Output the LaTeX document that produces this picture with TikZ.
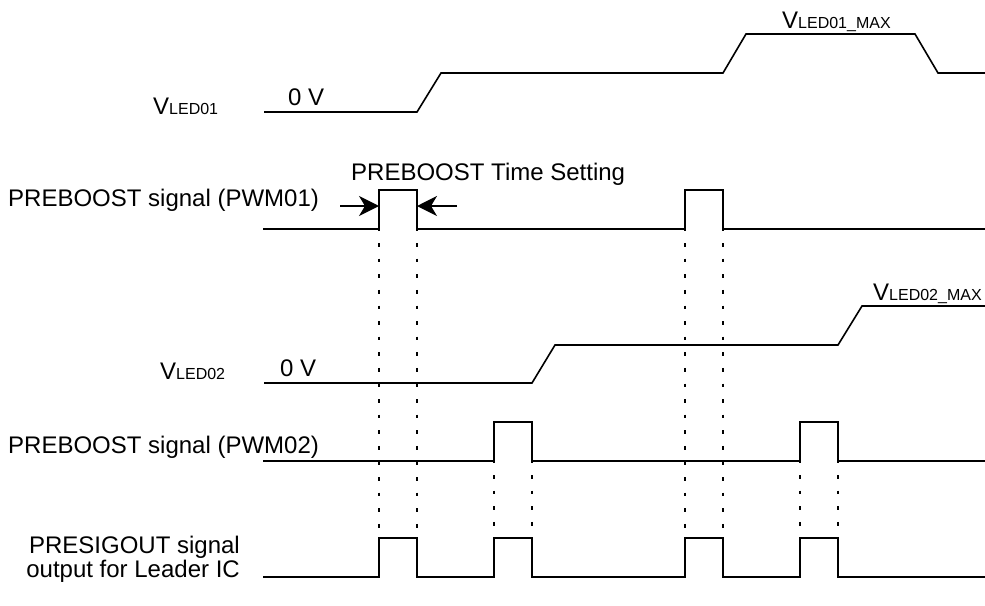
\documentclass[tikz,border=0pt]{standalone}
\usepackage{fontspec}
\setmainfont{Liberation Sans}
\usetikzlibrary{arrows.meta}
\newcommand{\vsub}[1]{{\fontsize{16}{16}\selectfont #1}}
\begin{document}
\begin{tikzpicture}[x=1pt,y=-1pt,
  wave/.style={line width=1.6pt, line join=miter},
  dotline/.style={line width=2.6pt, dash pattern=on 3.6pt off 12pt},
  arr/.style={line width=1.6pt, -{Stealth[length=20pt,width=20pt,inset=6pt]}},
  lbl/.style={inner sep=0pt, font=\fontsize{24}{25}\selectfont}]
\useasboundingbox (0,0) rectangle (985,605);
% labels
\node[lbl, anchor=base west] (vled1) at (153,114) {V\vsub{LED01}};
\node[lbl, anchor=base west] (zero1) at (288,105) {0 V};
\node[lbl, anchor=base west] (vled1max) at (782,28) {V\vsub{LED01\_MAX}};
\node[lbl, anchor=base west] (tset) at (351,180) {PREBOOST Time Setting};
\node[lbl, anchor=base west] (pwm1) at (8,206) {PREBOOST signal (PWM01)};
\node[lbl, anchor=base west] (vled2) at (160,379) {V\vsub{LED02}};
\node[lbl, anchor=base west] (zero2) at (280,376) {0 V};
\node[lbl, anchor=base west] (vled2max) at (873,300) {V\vsub{LED02\_MAX}};
\node[lbl, anchor=base west] (pwm2) at (8,453) {PREBOOST signal (PWM02)};
\node[lbl, anchor=base east, align=right] (presig) at (240,577) {PRESIGOUT signal\\[-1pt]output for Leader IC};
% dotted guides
\foreach \x in {379,417,685,723} \draw[dotline] (\x,227.5) -- (\x,577);
\foreach \x in {494,532,800,838} \draw[dotline] (\x,459.5) -- (\x,577);
% waveforms
\draw[wave] (264,112) -- (417,112) -- (441,73) -- (723,73) -- (746,34) -- (915,34) -- (938,73) -- (985,73);
\draw[wave] (263,229) -- (379,229) -- (379,190) -- (417,190) -- (417,229) -- (685,229) -- (685,190) -- (723,190) -- (723,229) -- (985,229);
\draw[wave] (264,383) -- (532,383) -- (555,345) -- (838,345) -- (862,306) -- (985,306);
\draw[wave] (263,461) -- (494,461) -- (494,422) -- (532,422) -- (532,461) -- (800,461) -- (800,422) -- (838,422) -- (838,461) -- (985,461);
\draw[wave] (263,577) -- (379,577) -- (379,538) -- (417,538) -- (417,577) -- (494,577) -- (494,538) -- (532,538) -- (532,577) -- (685,577) -- (685,538) -- (723,538) -- (723,577) -- (800,577) -- (800,538) -- (838,538) -- (838,577) -- (985,577);
% time-setting arrows
\coordinate (al) at (340,206);
\coordinate (alt) at (379,206);
\coordinate (ar) at (457,206);
\coordinate (art) at (417,206);
\draw[arr] (al) -- (alt);
\draw[arr] (ar) -- (art);
\end{tikzpicture}
\end{document}
